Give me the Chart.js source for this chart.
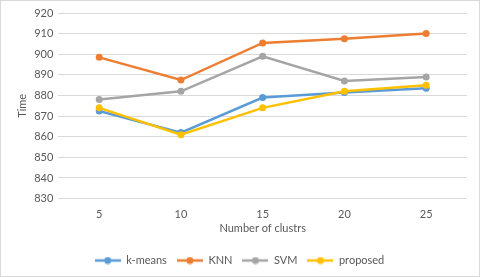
<!DOCTYPE html>
<html>
<head>
<meta charset="utf-8">
<script src="https://cdn.jsdelivr.net/npm/chart.js@4"></script>
<style>
  html, body { margin: 0; padding: 0; background: #fff; }
  #wrap { position: relative; width: 478px; height: 275px; border: 1px solid #d9d9d9; }
</style>
</head>
<body>
<div id="wrap"><canvas id="grafica"></canvas></div>
<script>
const clusters = ['5', '10', '15', '20', '25'];
const kmeans = [872.5, 862, 879, 881.5, 883.5];
const knn = [898.5, 887.5, 905.5, 907.5, 910];
const svm = [878, 882, 899, 887, 889];
const proposed = [874, 861, 874, 882, 885];
const nombres = ['k-means', 'KNN', 'SVM', 'proposed'];
const colores = ['#5b9bd5', '#ed7d31', '#a5a5a5', '#ffc000'];

// icono de leyenda: linea con circulo
function iconoLeyenda(color) {
    const c = document.createElement('canvas');
    c.width = 26; c.height = 8;
    const g = c.getContext('2d');
    g.strokeStyle = color;
    g.lineWidth = 2.5;
    g.beginPath(); g.moveTo(0, 4); g.lineTo(26, 4); g.stroke();
    g.fillStyle = color;
    g.beginPath(); g.arc(13, 4, 3.5, 0, Math.PI * 2); g.fill();
    return c;
}

const series = [kmeans, knn, svm, proposed];
const ctx = document.getElementById('grafica').getContext('2d');
new Chart(ctx, {
    type: 'line',
    data: {
        labels: clusters,
        datasets: series.map((s, i) => ({
            label: nombres[i],
            data: s,
            borderColor: colores[i],
            backgroundColor: colores[i],
            borderWidth: 2.5,
            pointRadius: 3.5,
            pointBorderWidth: 0,
            tension: 0,
            order: 4 - i
        }))
    },
    options: {
        responsive: true,
        maintainAspectRatio: false,
        animation: false,
        layout: { padding: { top: 0, right: 12, left: 11, bottom: 0 } },
        plugins: {
            tooltip: { enabled: false },
            legend: {
                position: 'bottom',
                labels: {
                    color: '#595959',
                    font: { family: 'Lato', size: 11 },
                    usePointStyle: true,
                    pointStyleWidth: 26,
                    padding: 10,
                    generateLabels: () => nombres.map((n, i) => ({
                        text: n,
                        pointStyle: iconoLeyenda(colores[i]),
                        fillStyle: colores[i],
                        strokeStyle: colores[i],
                        lineWidth: 0,
                        fontColor: '#595959',
                        datasetIndex: i
                    }))
                }
            }
        },
        scales: {
            x: {
                offset: true,
                grid: { display: false },
                border: { display: false },
                ticks: { color: '#595959', font: { family: 'Lato', size: 11 }, padding: 1 },
                title: {
                    display: true,
                    text: 'Number of clustrs',
                    color: '#595959',
                    font: { family: 'Lato', size: 11 },
                    padding: { top: 0, bottom: 10 }
                }
            },
            y: {
                min: 830,
                max: 920,
                afterFit: (escala) => { escala.paddingTop = 12; },
                ticks: { stepSize: 10, color: '#595959', font: { family: 'Lato', size: 11 }, padding: 5 },
                grid: { color: '#d9d9d9', drawTicks: false },
                border: { display: false },
                title: {
                    display: true,
                    text: 'Time',
                    color: '#595959',
                    font: { family: 'Lato', size: 11 },
                    padding: { top: 4, bottom: 0 }
                }
            }
        }
    }
});
</script>
</body>
</html>
